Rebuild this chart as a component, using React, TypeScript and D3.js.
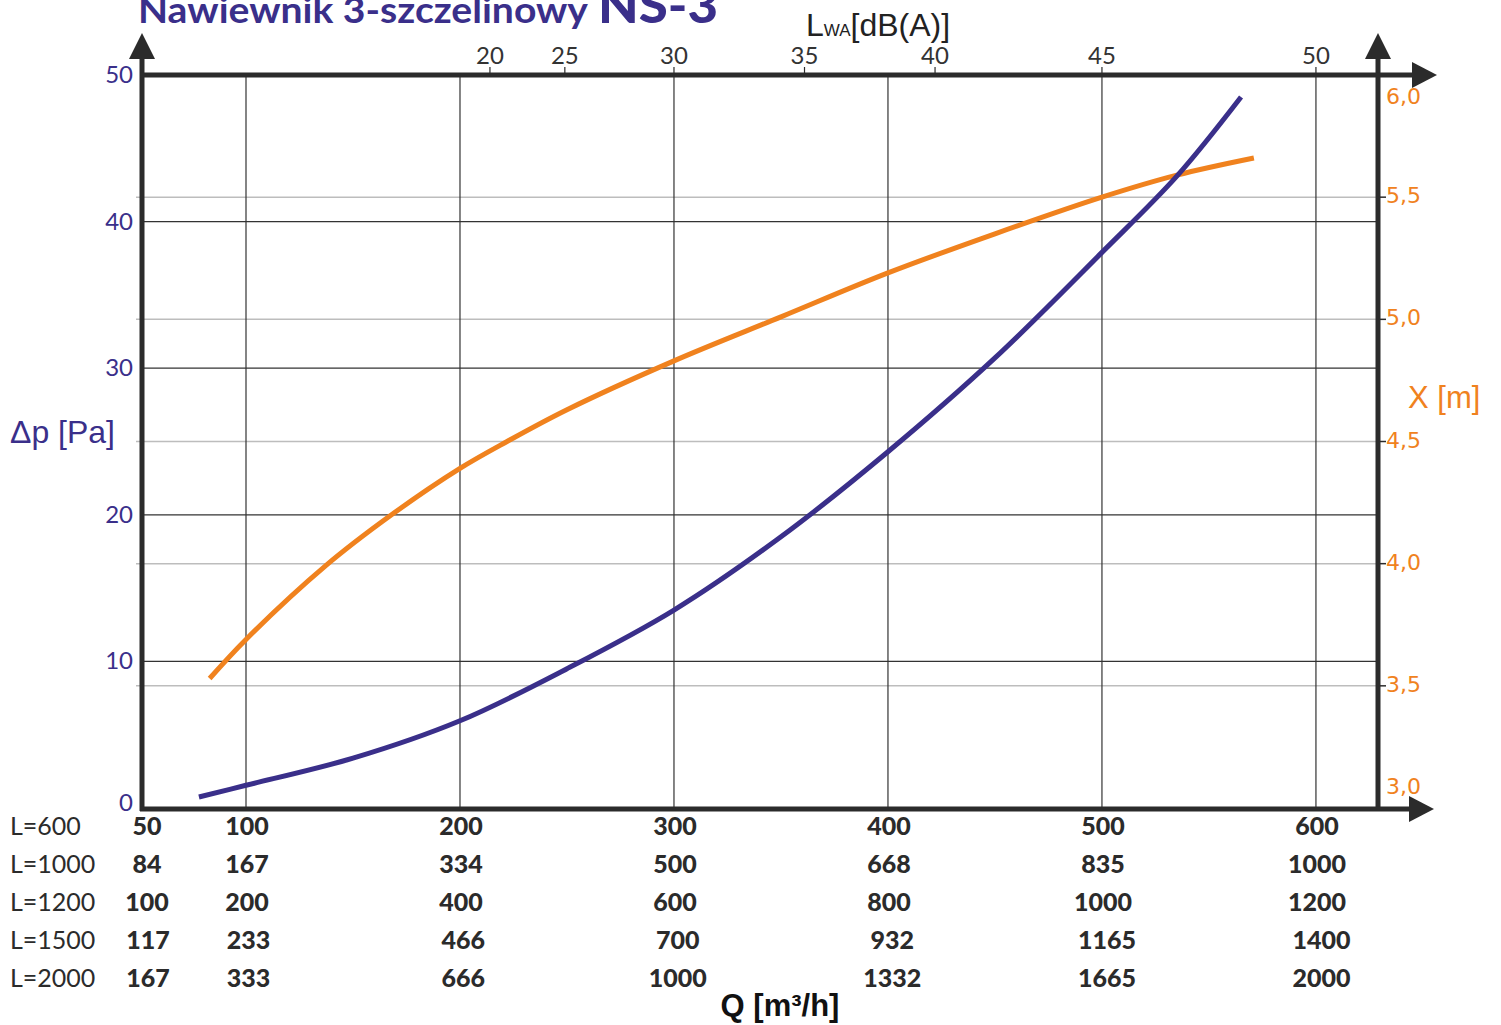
import { useEffect } from 'react';
import * as d3 from 'd3';

// Q [m3/h] for L=600, pressure loss curve
const dpQ = [78, 100, 150, 200, 250, 300, 350, 400, 450, 500, 535, 565];
const dpValues = [0.75, 1.55, 3.4, 5.95, 9.5, 13.5, 18.5, 24.3, 30.7, 37.9, 43.1, 48.5];

// throw X [m]
const throwQ = [83, 100, 137, 168, 200, 222, 250, 300, 350, 400, 450, 500, 535, 571];
const throwValues = [3.53, 3.69, 3.99, 4.2, 4.39, 4.5, 4.63, 4.83, 5.01, 5.19, 5.35, 5.5, 5.59, 5.66];

const qGrid = [100, 200, 300, 400, 500, 600];
const dpTicks = [0, 10, 20, 30, 40, 50];
const throwTicks = [3.0, 3.5, 4.0, 4.5, 5.0, 5.5, 6.0];

// top axis: sound power level placed at Q positions
const lwaTicks = [20, 25, 30, 35, 40, 45, 50];
const lwaQ = [214, 249, 300, 361, 422, 500, 600];

// table under the chart
const tableQ = [50, 100, 200, 300, 400, 500, 600];
const rowLabels = ['L=600', 'L=1000', 'L=1200', 'L=1500', 'L=2000'];
const rowL600 = [50, 100, 200, 300, 400, 500, 600];
const rowL1000 = [84, 167, 334, 500, 668, 835, 1000];
const rowL1200 = [100, 200, 400, 600, 800, 1000, 1200];
const rowL1500 = [117, 233, 466, 700, 932, 1165, 1400];
const rowL2000 = [167, 333, 666, 1000, 1332, 1665, 2000];
const tableRows = [rowL600, rowL1000, rowL1200, rowL1500, rowL2000];

const W = 1501;
const H = 1025;
const left = 142;
const right = 1378;
const top = 75;
const bottom = 809;

const PURPLE = '#3a2f8a';
const ORANGE = '#f0821e';
const DARK = '#2b2b2b';
const SANS = '"Liberation Sans", Arial, sans-serif';
const MYRIAD = 'Lato, "Open Sans", sans-serif';

export default function App() {
  useEffect(() => {
    document.body.style.margin = '0';
  }, []);

  const x = d3.scaleLinear().domain([51.4, 629]).range([left, right]);
  const yDp = d3.scaleLinear().domain([0, 50]).range([bottom - 1, top]);
  const yX = d3.scaleLinear().domain([3, 6]).range([bottom - 1, top]);

  const dpLine = d3
    .line<number>()
    .x((_, i) => x(dpQ[i]))
    .y(d => yDp(d))
    .curve(d3.curveCatmullRom.alpha(0.5));

  const throwLine = d3
    .line<number>()
    .x((_, i) => x(throwQ[i]))
    .y(d => yX(d))
    .curve(d3.curveCatmullRom.alpha(0.5));

  const fmtX = (v: number) => d3.format('.1f')(v).replace('.', ',');

  return (
    <svg width={W} height={H} style={{ display: 'block', background: '#fff' }}>
      {/* title, clipped by the top edge like the original */}
      <text x={138} y={23} fill={PURPLE} fontFamily={MYRIAD} fontWeight={700}>
        <tspan fontSize={36} textLength={450} lengthAdjust="spacingAndGlyphs">
          Nawiewnik 3-szczelinowy
        </tspan>
        <tspan x={598} fontSize={50} fontWeight={900} textLength={120} lengthAdjust="spacingAndGlyphs">
          NS-3
        </tspan>
      </text>

      {/* light grid for throw */}
      {throwTicks.slice(1, -1).map(v => (
        <g key={'gx' + v}>
          <line x1={left - 6} x2={right} y1={yX(v)} y2={yX(v)} stroke="#bdbdbd" strokeWidth={1.5} />
          <line x1={right} x2={right + 8} y1={yX(v)} y2={yX(v)} stroke={DARK} strokeWidth={1.5} />
        </g>
      ))}

      {/* dark grid */}
      {dpTicks.slice(1, -1).map(v => (
        <line key={'gd' + v} x1={left} x2={right} y1={yDp(v)} y2={yDp(v)} stroke="#333" strokeWidth={1.2} />
      ))}
      {qGrid.map(q => (
        <line key={'gq' + q} x1={x(q)} x2={x(q)} y1={top} y2={bottom} stroke="#333" strokeWidth={1.2} />
      ))}

      {/* curves */}
      <path d={throwLine(throwValues) || ''} fill="none" stroke={ORANGE} strokeWidth={5} />
      <path d={dpLine(dpValues) || ''} fill="none" stroke={PURPLE} strokeWidth={5} />

      {/* axes frame */}
      <g stroke={DARK} strokeWidth={5} fill="none">
        <line x1={left} x2={left} y1={bottom + 2} y2={55} />
        <line x1={right} x2={right} y1={bottom + 2} y2={55} />
        <line x1={left - 2} x2={1418} y1={top} y2={top} />
        <line x1={left - 2} x2={1418} y1={bottom} y2={bottom} />
      </g>
      <g fill={DARK}>
        <path d={`M${left - 13},59 L${left},33 L${left + 13},59 Z`} />
        <path d={`M${right - 13},59 L${right},33 L${right + 13},59 Z`} />
        <path d={`M1412,${top - 13} L1437,${top} L1412,${top + 13} Z`} />
        <path d={`M1409,${bottom - 13} L1434,${bottom} L1409,${bottom + 13} Z`} />
      </g>

      {/* top LWA axis */}
      {lwaTicks.map((v, i) => (
        <g key={'lwa' + v}>
          <line x1={x(lwaQ[i])} x2={x(lwaQ[i])} y1={67} y2={top} stroke={DARK} strokeWidth={1.2} />
          <text x={x(lwaQ[i])} y={64} textAnchor="middle" fontFamily={MYRIAD} fontSize={24} fill="#333">
            {v}
          </text>
        </g>
      ))}
      <text x={806} y={36} fontFamily={SANS} fontSize={32} fill="#222">
        L<tspan fontSize={17}>WA</tspan>[dB(A)]
      </text>

      {/* left Δp axis */}
      {dpTicks.map(v => (
        <text
          key={'dp' + v}
          x={133}
          y={v === 0 ? yDp(v) - 3 : yDp(v) + 2}
          textAnchor="end"
          dominantBaseline="middle"
          fontFamily={MYRIAD}
          fontSize={24}
          fill={PURPLE}
        >
          {v}
        </text>
      ))}
      <text x={10} y={443} fontFamily={SANS} fontSize={32} fill={PURPLE}>
        Δp [Pa]
      </text>

      {/* right X axis */}
      {throwTicks.map(v => {
        let yy = yX(v);
        if (v === 6) yy = top + 23;
        if (v === 3) yy = bottom - 21;
        return (
          <text
            key={'tx' + v}
            x={1386}
            y={yy}
            dominantBaseline="middle"
            fontFamily='"DejaVu Sans", sans-serif'
            fontSize={22}
            fill={ORANGE}
          >
            {fmtX(v)}
          </text>
        );
      })}
      <text x={1408} y={408} fontFamily={SANS} fontSize={31} fill={ORANGE}>
        X [m]
      </text>

      {/* table of flows for various lengths */}
      {rowLabels.map((lab, r) => {
        const baseY = 835 + r * 38;
        return (
          <g key={lab}>
            <text x={10} y={baseY} fontFamily={MYRIAD} fontSize={25} fill="#2b2b2b">
              {lab}
            </text>
            {tableRows[r].map((v, c) => (
              <text
                key={c}
                x={Math.max(x(tableQ[c]), 146) + (r >= 3 ? 2 + c * 0.6 : 1)}
                y={baseY}
                textAnchor="middle"
                fontFamily={MYRIAD}
                fontWeight={900}
                fontSize={25}
                fill="#2b2b2b"
              >
                {v}
              </text>
            ))}
          </g>
        );
      })}
      <text x={780} y={1016} textAnchor="middle" fontFamily={SANS} fontWeight={700} fontSize={31} fill="#111">
        Q [m³/h]
      </text>
    </svg>
  );
}
